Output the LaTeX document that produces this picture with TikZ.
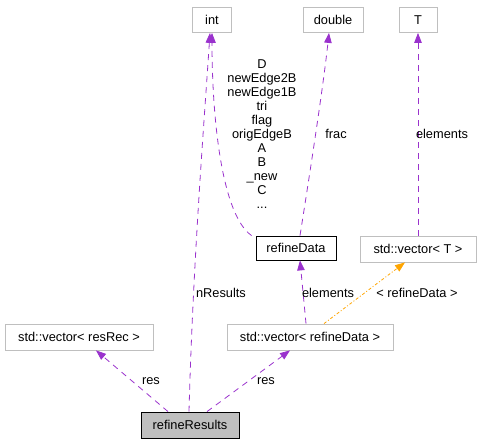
\documentclass[tikz,border=0pt]{standalone}
\usepackage{fontspec}
\setmainfont{Liberation Sans}
\usetikzlibrary{arrows.meta}
\definecolor{edgepurple}{HTML}{9A32CD}
\definecolor{edgeorange}{HTML}{FFA500}
\definecolor{boxgray}{HTML}{BFBFBF}
\tikzset{
  box/.style={draw=boxgray, line width=0.8pt, inner sep=0pt, minimum height=25pt, font=\fontsize{12.8}{14}\selectfont},
  mainbox/.style={box, draw=black},
  curbox/.style={box, draw=black, fill=boxgray},
  rel/.style={draw=edgepurple, line width=0.8pt, dash pattern=on 6pt off 5pt, -{Triangle[length=10pt,width=7.5pt]}, edgepurple},
  tmpl/.style={draw=edgeorange, line width=0.8pt, dash pattern=on 3pt off 2pt on 1pt off 2pt, -{Triangle[length=10pt,width=7.5pt]}, edgeorange},
  lbl/.style={inner sep=0pt, font=\fontsize{12.8}{14}\selectfont, align=center},
}
\begin{document}
\begin{tikzpicture}[x=1pt,y=-1pt]
\useasboundingbox (0,0) rectangle (480,443);
\node[box, minimum width=39pt] (int) at (212,20) {int};
\node[box, minimum width=60pt] (dbl) at (333,20) {double};
\node[box, minimum width=38pt] (T) at (418,20) {T};
\node[mainbox, minimum width=80pt, minimum height=24pt] (rd) at (296,248) {refineData};
\node[box, minimum width=116pt, minimum height=26pt] (vecT) at (418,249) {std::vector< T >};
\node[box, minimum width=148pt, minimum height=26pt] (vecRes) at (79,337) {std::vector< resRec >};
\node[box, minimum width=166pt, minimum height=26pt] (vecRD) at (310,337) {std::vector< refineData >};
\node[curbox, minimum width=98pt, minimum height=26pt] (rr) at (190,425) {refineResults};

% edges
\draw[rel] ([xshift=-1pt]rr.north) .. controls (193,260) and (205,110) .. ([xshift=-2pt]int.south);
\draw[rel] ([xshift=-4pt]rd.north west) .. controls (222,215) and (212,120) .. ([xshift=0pt]int.south);
\draw[rel] ([xshift=4pt]rd.north) .. controls (312,160) and (324,80) .. ([xshift=-4pt]dbl.south);
\draw[rel] (vecT.north) -- (T.south);
\draw[rel] ([xshift=-4pt]vecRD.north) -- ([xshift=4pt]rd.south);
\draw[tmpl] ([xshift=14pt]vecRD.north) -- ([xshift=-13pt]vecT.south);
\draw[rel] ([xshift=-22pt]rr.north) -- ([xshift=17pt]vecRes.south);
\draw[rel] ([xshift=17pt]rr.north) -- ([xshift=-20pt]vecRD.south);

% labels
\node[lbl] (lnres) at (221,293) {nResults};
\node[lbl] (llist) at (262,134) {D\\newEdge2B\\newEdge1B\\tri\\flag\\origEdgeB\\A\\B\\\_new\\C\\...};
\node[lbl] (lfrac) at (336,134) {frac};
\node[lbl] (lelT) at (442,134) {elements};
\node[lbl] (lelRD) at (328,293) {elements};
\node[lbl] (ltmpl) at (417,293) {< refineData >};
\node[lbl] (lres1) at (151,381) {res};
\node[lbl] (lres2) at (266,381) {res};
\end{tikzpicture}
\end{document}
